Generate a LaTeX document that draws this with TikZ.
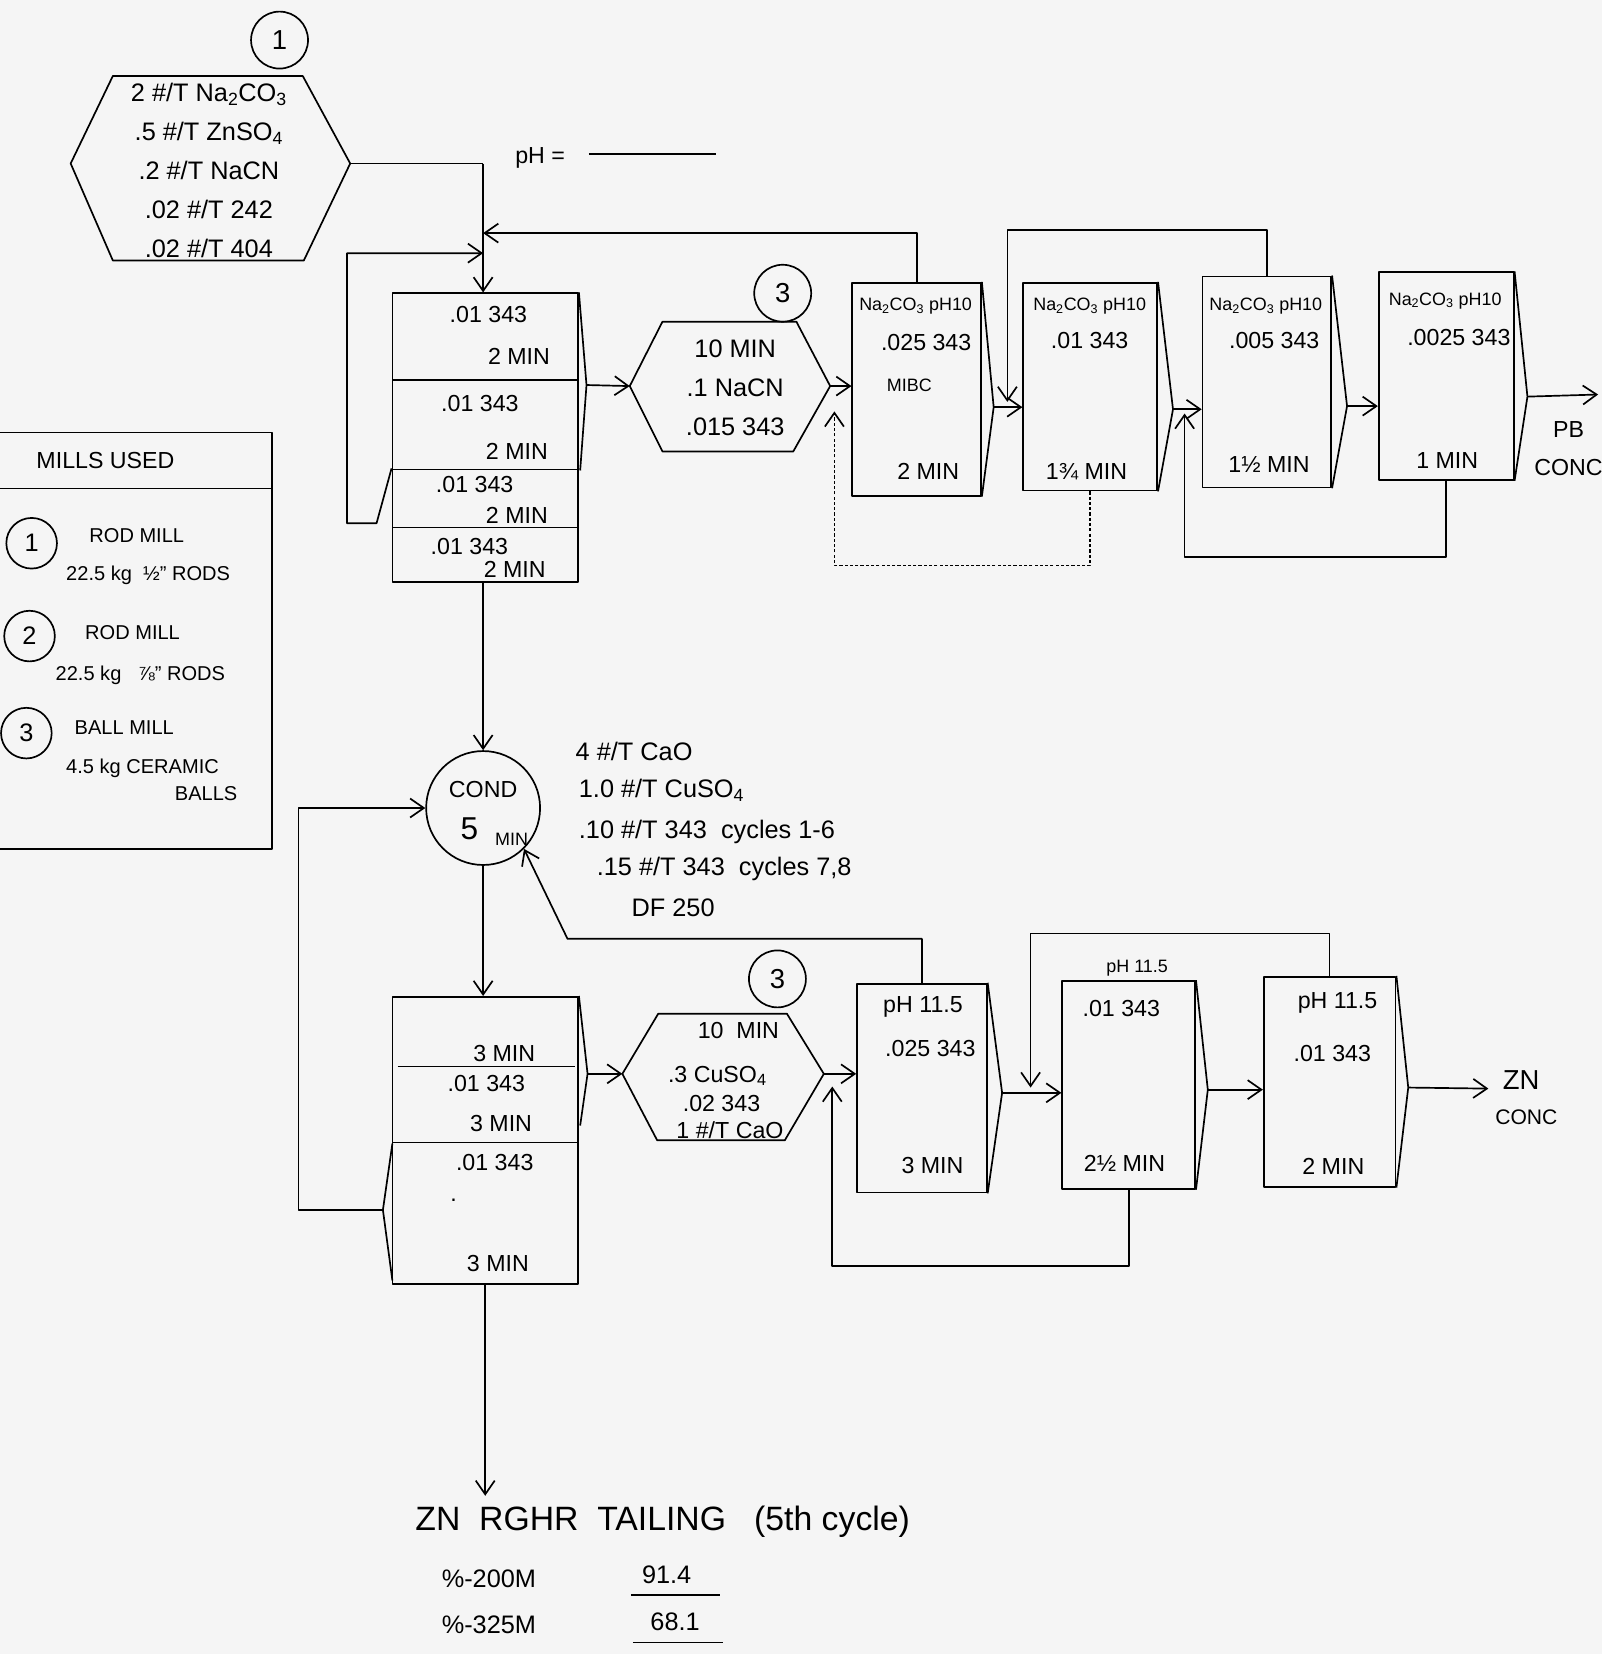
\documentclass[tikz,border=0pt]{standalone}
\usepackage{fontspec}
\setmainfont{Liberation Sans}
\usetikzlibrary{arrows.meta,calc}

\tikzset{
  cellbox/.style={draw, inner sep=0pt},
  ring/.style={draw, circle, inner sep=0pt, minimum size=54pt, font=\fontsize{26}{30}\selectfont},
  flow/.style={-{Straight Barb[length=13pt,width=18pt]}},
  bigtxt/.style={font=\fontsize{24}{37}\selectfont, inner sep=0pt},
  celltxt/.style={font=\fontsize{22}{26}\selectfont, inner sep=0pt},
  smalltxt/.style={font=\fontsize{17}{20}\selectfont, inner sep=0pt},
  keytxt/.style={font=\fontsize{19}{22}\selectfont, inner sep=0pt, anchor=west}
}

\begin{document}
\begin{tikzpicture}[x=1pt, y=-1pt, line width=1.6pt, line join=round]
\fill[black!4] (0,0) rectangle (1519,1568);
\useasboundingbox (0,0) rectangle (1519,1568);

% Lead feed reagents
\coordinate (hexAw) at (67,155);
\coordinate (hexAe) at (332,155);
\draw (hexAw) -- (107,72) -- (287,72) -- (hexAe) -- (288,247) -- (107,247) -- cycle;
\node[bigtxt, align=center] (feedtxt) at (198,162) {2 \#/T Na\textsubscript{2}CO\textsubscript{3}\\ .5 \#/T ZnSO\textsubscript{4}\\ .2 \#/T NaCN\\ .02 \#/T 242\\ .02 \#/T 404};
\node[ring] (millA) at (265,38) {1};

\node[celltxt] (phtxt) at (512,150) {pH =};
\draw[line width=1.2pt] ([xshift=22pt,yshift=4pt]phtxt.east) -- ++(120,0);

% Lead rougher bank
\node[cellbox, minimum width=176, minimum height=274] (pbR) at (460,415) {};
\draw[line width=2.2pt] (372,360) -- (548,360);
\draw (372,445) -- (548,445);
\draw (372,500) -- (548,500);
\node[celltxt] (pbR1a) at (463,298) {.01 343};
\node[celltxt] (pbR1b) at (492,338) {2 MIN};
\node[celltxt] (pbR2a) at (455,383) {.01 343};
\node[celltxt] (pbR2b) at (490,428) {2 MIN};
\node[celltxt] (pbR3a) at (450,459) {.01 343};
\node[celltxt] (pbR3b) at (490,489) {2 MIN};
\node[celltxt] (pbR4a) at (445,518) {.01 343};
\node[celltxt] (pbR4b) at (488,540) {2 MIN};
\coordinate (pbRlip) at (556,365);
\draw (pbR.north east) -- (pbRlip) -- (550,446);
\coordinate (pbRlipL) at (357,496);

% Feed and recycle into the rougher
\coordinate (feedpt) at (458,155);
\coordinate (recycA) at (458,240);
\coordinate (recycB) at (458,221);
\draw (hexAe) -- (feedpt);
\draw[flow] (feedpt) -- (feedpt |- pbR.north);
\draw[flow] ([yshift=-29pt]pbR.west) -- (pbRlipL) -- (329,496) -- (329,240) -- (recycA);

% Lead conditioner
\coordinate (hexBw) at (597,366);
\coordinate (hexBe) at (787,366);
\draw (hexBw) -- (628,305) -- (755,305) -- (hexBe) -- (752,428) -- (628,428) -- cycle;
\node[bigtxt, align=center] (hexBtxt) at (697,368) {10 MIN\\ .1 NaCN\\ .015 343};
\node[ring] (millB) at (742,278) {3};
\draw[flow] (pbRlip) -- (hexBw);

% Lead cleaners
\node[cellbox, minimum width=122, minimum height=202] (pbA) at (869,369) {};
\node[cellbox, minimum width=127, minimum height=197] (pbB) at (1033.5,366.5) {};
\node[cellbox, minimum width=122, minimum height=200] (pbC) at (1201,362) {};
\node[cellbox, minimum width=128, minimum height=197] (pbD) at (1371,356.5) {};

\node[smalltxt] (pbAa) at (868,290) {Na\textsubscript{2}CO\textsubscript{3} pH10};
\node[celltxt] (pbAb) at (878,325) {.025 343};
\node[smalltxt] (pbAc) at (862,365) {MIBC};
\node[celltxt] (pbAd) at (880,447) {2 MIN};
\node[smalltxt] (pbBa) at (1033,290) {Na\textsubscript{2}CO\textsubscript{3} pH10};
\node[celltxt] (pbBb) at (1033,323) {.01 343};
\node[celltxt] (pbBd) at (1030,447) {1¾ MIN};
\node[smalltxt] (pbCa) at (1200,290) {Na\textsubscript{2}CO\textsubscript{3} pH10};
\node[celltxt] (pbCb) at (1208,323) {.005 343};
\node[celltxt] (pbCd) at (1203,440) {1½ MIN};
\node[smalltxt] (pbDa) at (1370,285) {Na\textsubscript{2}CO\textsubscript{3} pH10};
\node[celltxt] (pbDb) at (1383,320) {.0025 343};
\node[celltxt] (pbDd) at (1372,437) {1 MIN};

\draw[flow] (hexBe) -- (hexBe -| pbA.west);
\coordinate (pbAlip) at (942,386);
\draw (pbA.north east) -- (pbAlip) -- (pbA.south east);
\draw[flow] (pbAlip) -- (pbAlip -| pbB.west);
\coordinate (pbBlip) at (1112,388);
\draw (pbB.north east) -- (pbBlip) -- (pbB.south east);
\draw[flow] (pbBlip) -- (pbBlip -| pbC.west);
\coordinate (pbClip) at (1277,385);
\draw (pbC.north east) -- (pbClip) -- (pbC.south east);
\draw[flow] (pbClip) -- (pbClip -| pbD.west);
\coordinate (pbDlip) at (1448,376);
\draw (pbD.north east) -- (pbDlip) -- (pbD.south east);
\coordinate (pbconc) at (1515,374);
\draw[flow] (pbDlip) -- (pbconc);
\node[celltxt, align=center, font=\fontsize{22}{36}\selectfont] (pbconctxt) at (1487,425) {PB\\CONC};

% Lead cleaner recycles
\coordinate (recycC) at (955,218);
\coordinate (recycCend) at (955,381);
\coordinate (recycD) at (1123,528);
\coordinate (recycDend) at (1123,392);
\coordinate (recycE) at (791,536);
\coordinate (recycEend) at (791,390);
\draw[flow] (pbA.north) -- (pbA.north |- recycB) -- (recycB);
\draw[flow] (pbC.north) -- (pbC.north |- recycC) -- (recycC) -- (recycCend);
\draw[flow] (pbD.south) -- (pbD.south |- recycD) -- (recycD) -- (recycDend);
\draw[flow, densely dashed] (pbB.south) -- (pbB.south |- recycE) -- (recycE) -- (recycEend);

% Mills legend
\draw (0,410) -- (258,410) -- (258,805) -- (0,805);
\draw (0,463) -- (258,463);
\node[celltxt] (millstitle) at (100,437) {MILLS USED};
\node[ring, minimum size=48pt, font=\fontsize{24}{28}\selectfont] (keyA) at (30,515) {1};
\node[keytxt] (keyAa) at (84,508) {ROD MILL};
\node[keytxt] (keyAb) at (62,545) {22.5 kg \ ½" RODS};
\node[ring, minimum size=48pt, font=\fontsize{24}{28}\selectfont] (keyB) at (28,603) {2};
\node[keytxt] (keyBa) at (80,600) {ROD MILL};
\node[keytxt] (keyBb) at (52,640) {22.5 kg \ \ ⅞" RODS};
\node[ring, minimum size=48pt, font=\fontsize{24}{28}\selectfont] (keyC) at (25,695) {3};
\node[keytxt] (keyCa) at (70,690) {BALL MILL};
\node[keytxt] (keyCb) at (62,728) {4.5 kg CERAMIC};
\node[keytxt] (keyCc) at (165,752) {BALLS};

% Zinc conditioner
\node[draw, circle, minimum size=108, inner sep=0pt] (cond) at (458,766) {};
\node[celltxt] (condtxt) at (458,748) {COND};
\node[font=\fontsize{30}{32}\selectfont, inner sep=0pt] (condfive) at (445,786) {5};
\node[smalltxt] (condmin) at (485,796) {MIN};
\node[bigtxt, anchor=west] (condr1) at (545,712) {4 \#/T CaO};
\node[bigtxt, anchor=west] (condr2) at (548,749) {1.0 \#/T CuSO\textsubscript{4}};
\node[bigtxt, anchor=west] (condr3) at (548,789) {.10 \#/T 343 \ cycles 1-6};
\node[bigtxt, anchor=west] (condr4) at (565,824) {.15 \#/T 343 \ cycles 7,8};
\node[bigtxt, anchor=west] (condr5) at (598,861) {DF 250};
\draw[flow] (pbR.south -| cond.north) -- (cond.north);

% Zinc rougher bank
\node[cellbox, minimum width=176, minimum height=272] (znR) at (460,1081) {};
\draw[line width=1.2pt] (377,1011) -- (545,1011);
\draw (372,1083) -- (548,1083);
\node[celltxt] (znR1a) at (478,999) {3 MIN};
\node[celltxt] (znR2a) at (461,1027) {.01 343};
\node[celltxt] (znR2b) at (475,1065) {3 MIN};
\node[celltxt] (znR3a) at (469,1102) {.01 343};
\node[celltxt] (znR3b) at (430,1138) {.};
\node[celltxt] (znR3c) at (472,1198) {3 MIN};
\draw[flow] (cond.south) -- (cond.south |- znR.north);
\coordinate (znRlip) at (557,1018);
\draw (znR.north east) -- (znRlip) -- (550,1067);
\coordinate (znRlipL) at (363,1147);
\draw (372,1084) -- (znRlipL) -- (372,1214);
\coordinate (retL) at (283,1147);
\draw[flow] (znRlipL) -- (retL) -- (retL |- cond.west) -- (cond.west);

% Zinc cleaner conditioner
\coordinate (hexCw) at (590,1018);
\coordinate (hexCe) at (781,1018);
\draw (hexCw) -- (624,961) -- (746,961) -- (hexCe) -- (744,1081) -- (623,1081) -- cycle;
\node[celltxt] (hexCa) at (700,977) {10 \ MIN};
\node[celltxt] (hexCb) at (680,1020) {.3 CuSO\textsubscript{4}};
\node[celltxt] (hexCc) at (684,1046) {.02 343};
\node[celltxt] (hexCd) at (692,1071) {1 \#/T CaO};
\node[ring] (millC) at (737,928) {3};
\draw[flow] (znRlip) -- (hexCw);

% Zinc cleaners
\node[cellbox, minimum width=123, minimum height=198] (zcA) at (874,1031.5) {};
\node[cellbox, minimum width=126, minimum height=197] (zcB) at (1070,1028.5) {};
\node[cellbox, minimum width=125, minimum height=199] (zcC) at (1260.5,1025.5) {};
\node[celltxt] (zcAa) at (875,955) {pH 11.5};
\node[celltxt] (zcAb) at (882,994) {.025 343};
\node[celltxt] (zcAd) at (884,1105) {3 MIN};
\node[smalltxt] (zcBa) at (1078,918) {pH 11.5};
\node[celltxt] (zcBb) at (1063,956) {.01 343};
\node[celltxt] (zcBd) at (1066,1103) {2½ MIN};
\node[celltxt] (zcCa) at (1268,951) {pH 11.5};
\node[celltxt] (zcCb) at (1263,999) {.01 343};
\node[celltxt] (zcCd) at (1264,1106) {2 MIN};

\draw[flow] (hexCe) -- (hexCe -| zcA.west);
\coordinate (zcAlip) at (950,1036);
\draw (zcA.north east) -- (zcAlip) -- (zcA.south east);
\draw[flow] (zcAlip) -- (zcAlip -| zcB.west);
\coordinate (zcBlip) at (1145,1033);
\draw (zcB.north east) -- (zcBlip) -- (zcB.south east);
\draw[flow] (zcBlip) -- (zcBlip -| zcC.west);
\coordinate (zcClip) at (1335,1031);
\draw (zcC.north east) -- (zcClip) -- (zcC.south east);
\coordinate (znconc) at (1411,1032);
\draw[flow] (zcClip) -- (znconc);
\node[font=\fontsize{26}{28}\selectfont, inner sep=0pt] (znconcA) at (1442,1024) {ZN};
\node[smalltxt, font=\fontsize{20}{22}\selectfont] (znconcB) at (1447,1059) {CONC};

% Zinc cleaner recycles
\coordinate (zrecA) at (538,890);
\coordinate (zrecB) at (977,885);
\coordinate (zrecBend) at (977,1031);
\coordinate (zrecC) at (789,1200);
\coordinate (zrecCend) at (789,1030);
\draw[flow] (zcA.north) -- (zcA.north |- zrecA) -- (zrecA) -- (cond.south east);
\draw[flow] (zcC.north) -- (zcC.north |- zrecB) -- (zrecB) -- (zrecBend);
\draw[flow] (zcB.south) -- (zcB.south |- zrecC) -- (zrecC) -- (zrecCend);

% Tailing
\coordinate (zntail) at (460,1418);
\draw[flow] (znR.south) -- (zntail);
\node[font=\fontsize{32}{34}\selectfont, inner sep=0pt, anchor=west] (tailtxt) at (393,1443) {ZN \ RGHR \ TAILING \ \ (5th cycle)};
\node[bigtxt, anchor=west] (sizeA) at (418,1497) {\%-200M};
\node[bigtxt] (sizeAval) at (632,1493) {91.4};
\node[bigtxt, anchor=west] (sizeB) at (418,1540) {\%-325M};
\node[bigtxt] (sizeBval) at (640,1537) {68.1};
\draw (598,1512) -- (683,1512);
\draw (600,1557) -- (685,1557);
\end{tikzpicture}
\end{document}
